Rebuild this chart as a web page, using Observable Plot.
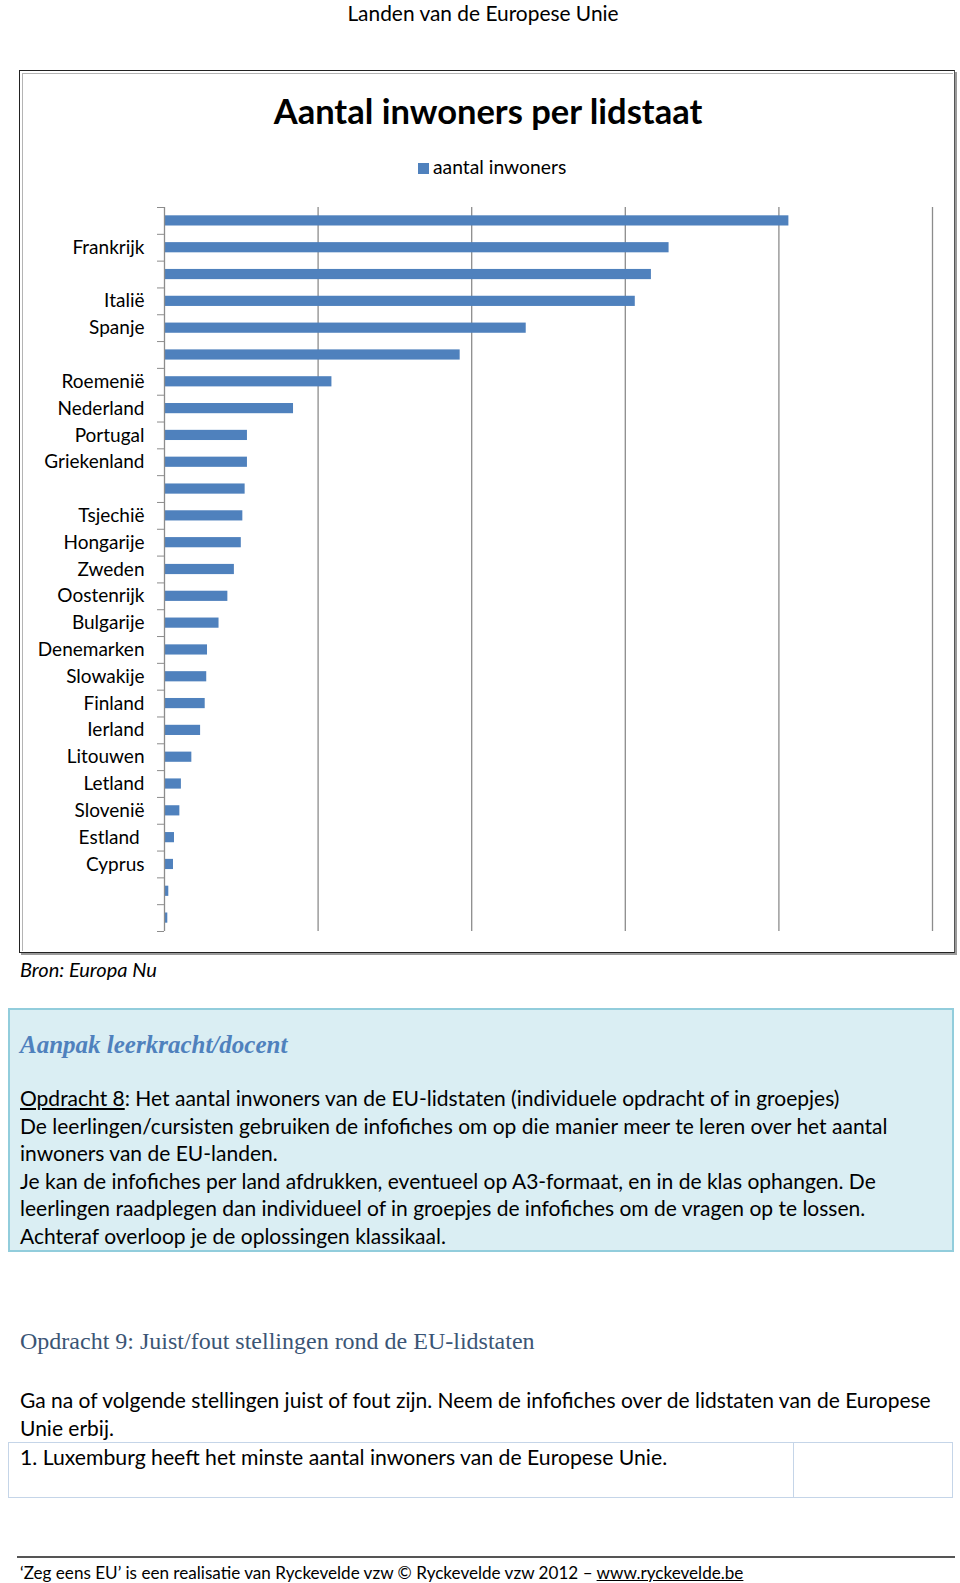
<!DOCTYPE html>
<html lang="nl">
<head>
<meta charset="utf-8">
<script src="https://cdn.jsdelivr.net/npm/d3@7"></script>
<script src="https://cdn.jsdelivr.net/npm/@observablehq/plot@0.6"></script>
<style>
  html, body { margin: 0; padding: 0; background: #fff; }
  body { width: 960px; height: 1583px; position: relative; overflow: hidden; font-family: Lato, "Open Sans", sans-serif; color: #000; }
  .abs { position: absolute; white-space: nowrap; }
  #header { left: 0; width: 966px; top: 1px; line-height: 24px; font-size: 20.9px; text-align: center; }
  #chartbox { left: 19px; top: 70px; width: 934px; height: 881px; border-left: 1.5px solid #222; border-top: 1.5px solid #222; border-bottom: 1.5px solid #222; border-right: 1px solid #555; box-shadow: 2px 2px 0 #9a9a9a; }
  #chartinner { position: absolute; left: 2px; top: 2px; right: 1px; bottom: 1px; border: 1.5px solid #b4b4b4; border-right: none; border-bottom: none; }
  #title { left: 0; width: 976px; top: 90px; line-height: 42px; font-size: 34.5px; font-weight: 700; text-align: center; }
  #legend { left: 418px; top: 155px; line-height: 24px; font-size: 19.3px; }
  #legend .sw { display: inline-block; width: 11px; height: 11px; background: #4f81bd; margin-right: 4px; vertical-align: 0px; }
  #chart { left: 20px; top: 195px; }
  #bron { left: 20px; top: 957px; line-height: 24px; font-size: 20px; font-style: italic; }
  #aanpakbox { left: 8px; top: 1008px; width: 942px; height: 240px; background: #daeef3; border: 2px solid #92cddc; }
  #aanpak { left: 20px; top: 1030px; line-height: 30px; font-size: 25px; font-weight: 700; font-style: italic; font-family: "Liberation Serif", "DejaVu Serif", serif; color: #4f81bd; }
  #opdracht8 { left: 20px; top: 1084px; line-height: 27.5px; font-size: 21px; }
  #opdracht9 { left: 20px; top: 1326px; line-height: 30px; font-size: 24px; font-family: "Liberation Serif", "DejaVu Serif", serif; color: #3b5575; }
  #ganna { left: 20px; top: 1386px; line-height: 28px; font-size: 21px; }
  #table { left: 8px; top: 1442px; width: 943px; height: 54px; border: 1.5px solid #c5d5e8; }
  #tablediv { left: 793px; top: 1442px; width: 0; height: 56px; border-left: 1.5px solid #c5d5e8; }
  #stelling { left: 20px; top: 1443px; line-height: 28px; font-size: 21.2px; }
  #footrule { left: 17px; top: 1556px; width: 938px; height: 0; border-top: 2px solid #555; }
  #footer { left: 20px; top: 1562px; line-height: 22px; font-size: 17.1px; }
  #footer u { text-decoration: underline; }
</style>
</head>
<body>
<div id="header" class="abs">Landen van de Europese Unie</div>
<div id="chartbox" class="abs"><div id="chartinner"></div></div>
<div id="title" class="abs">Aantal inwoners per lidstaat</div>
<div id="legend" class="abs"><span class="sw"></span>aantal inwoners</div>
<div id="chart" class="abs"></div>
<div id="bron" class="abs">Bron: Europa Nu</div>

<div id="aanpakbox" class="abs"></div>
<div id="aanpak" class="abs">Aanpak leerkracht/docent</div>
<div id="opdracht8" class="abs"><u>Opdracht 8</u>: Het aantal inwoners van de EU-lidstaten (individuele opdracht of in groepjes)<br>De leerlingen/cursisten gebruiken de infofiches om op die manier meer te leren over het aantal<br>inwoners van de EU-landen.<br>Je kan de infofiches per land afdrukken, eventueel op A3-formaat, en in de klas ophangen. De<br>leerlingen raadplegen dan individueel of in groepjes de infofiches om de vragen op te lossen.<br>Achteraf overloop je de oplossingen klassikaal.</div>

<div id="opdracht9" class="abs">Opdracht 9: Juist/fout stellingen rond de EU-lidstaten</div>
<div id="ganna" class="abs">Ga na of volgende stellingen juist of fout zijn. Neem de infofiches over de lidstaten van de Europese<br>Unie erbij.</div>
<div id="table" class="abs"></div>
<div id="tablediv" class="abs"></div>
<div id="stelling" class="abs">1. Luxemburg heeft het minste aantal inwoners van de Europese Unie.</div>

<div id="footrule" class="abs"></div>
<div id="footer" class="abs">‘Zeg eens EU’ is een realisatie van Ryckevelde vzw © Ryckevelde vzw 2012 – <u>www.ryckevelde.be</u></div>

<script>
// Tick labels as shown in the reference (blank where the chart shows none), top to bottom
const labels = ["", "Frankrijk", "", "Italië", "Spanje", "", "Roemenië", "Nederland", "Portugal", "Griekenland",
  "", "Tsjechië", "Hongarije", "Zweden", "Oostenrijk", "Bulgarije", "Denemarken", "Slowakije", "Finland",
  "Ierland", "Litouwen", "Letland", "Slovenië", "Estland\u00a0", "Cyprus", "", ""];
// aantal inwoners (millions)
const inwoners = [81.3, 65.7, 63.4, 61.3, 47.1, 38.5, 21.8, 16.8, 10.8, 10.8, 10.5, 10.2, 10.0, 9.1, 8.25,
  7.1, 5.6, 5.5, 5.3, 4.7, 3.56, 2.2, 2.0, 1.3, 1.17, 0.56, 0.43];
const gridTicks = [20, 40, 60, 80, 100];

const data = inwoners.map((v, i) => ({i, label: labels[i], value: v * 1e6}));
const n = data.length;

const chart = Plot.plot({
  width: 936,
  height: 750,
  marginLeft: 144,
  marginRight: 24,
  marginTop: 12,
  marginBottom: 14,
  style: {fontFamily: "Lato, 'Open Sans', sans-serif", fontSize: "19px", color: "#000", background: "transparent"},
  x: {domain: [0, 100e6], axis: null},
  y: {domain: [0, n], reverse: true, axis: null},
  marks: [
    Plot.gridX(gridTicks.map(d => d * 1e6), {stroke: "#8c8c8c", strokeOpacity: 1, strokeWidth: 1.3}),
    Plot.rectX(data, {x1: 0, x2: "value", y1: d => d.i + 0.31, y2: d => d.i + 0.69, fill: "#4f81bd"}),
    Plot.ruleX([0], {stroke: "#8c8c8c", strokeWidth: 1.3}),
    Plot.axisY(d3.range(n + 1), {tickSize: 7, tickFormat: () => "", stroke: "#8c8c8c", strokeOpacity: 1}),
    Plot.axisY(data.map(d => d.i + 0.5), {tickSize: 0, tickPadding: 20, tickFormat: v => labels[Math.floor(v)], fill: "#000", fontSize: 19})
  ]
});
document.getElementById("chart").appendChild(chart);
</script>
</body>
</html>
